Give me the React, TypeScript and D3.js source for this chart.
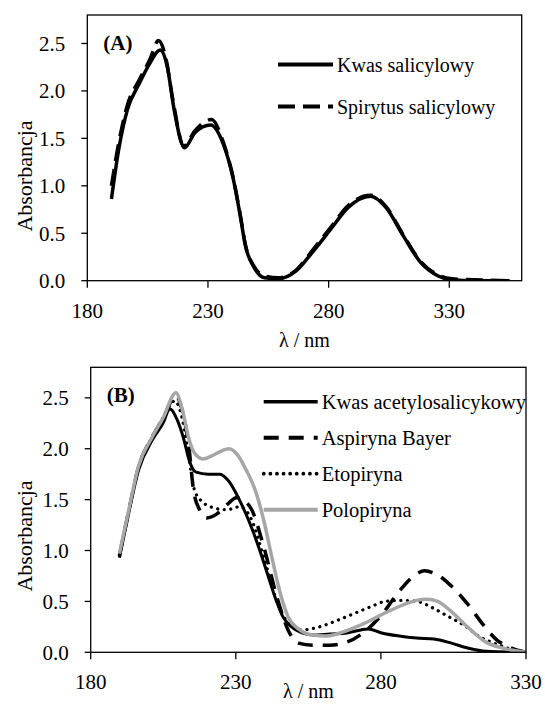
import React from 'react';
import * as d3 from 'd3';

// ---- panel A data ----
const lambdaKwasSal = [190, 193, 196.6, 201.6, 205.9, 210.2, 213.1, 216, 220.3, 224.6, 231.1, 236.2, 240.5, 243.4, 245.5, 249.1, 253.4, 259.2, 266.4, 273.6, 280.8, 288, 297.4, 303.8, 311, 318.2, 325.4, 331.2, 340, 355];
const absKwasSal = [0.86, 1.38, 1.8, 2.08, 2.29, 2.43, 2.26, 1.8, 1.4, 1.56, 1.64, 1.45, 1.07, 0.68, 0.37, 0.14, 0.03, 0.02, 0.1, 0.31, 0.54, 0.77, 0.89, 0.77, 0.47, 0.19, 0.05, 0.01, 0.0, 0.0];
const lambdaSpirytus = [190, 193, 196.6, 201.6, 205.9, 209.5, 212.5, 215.5, 220, 224.6, 231.5, 236.2, 240.5, 243.4, 245.5, 249.1, 253.4, 259.2, 266.4, 273.6, 280.8, 288, 297.4, 303.8, 311, 318.2, 325.4, 331.2, 340, 355];
const absSpirytus = [1.0, 1.45, 1.85, 2.12, 2.33, 2.53, 2.35, 1.9, 1.42, 1.58, 1.7, 1.47, 1.08, 0.69, 0.38, 0.15, 0.05, 0.03, 0.11, 0.33, 0.56, 0.79, 0.9, 0.78, 0.48, 0.2, 0.06, 0.02, 0.01, 0.0];

// ---- panel B data ----
const lambdaKwasAcetyl = [189.9, 192.9, 196.5, 201.3, 204.9, 207.3, 209.7, 212.1, 213.9, 216.3, 220.5, 224.6, 227.6, 231.2, 234.8, 237.8, 240.8, 243.8, 246.2, 249.2, 252.8, 256.4, 262.4, 268.3, 273.1, 275.5, 280.3, 286.3, 292.3, 298.3, 304.3, 310.2, 316.2, 330];
const absKwasAcetyl = [0.93, 1.34, 1.79, 2.09, 2.25, 2.39, 2.29, 2.09, 1.89, 1.77, 1.75, 1.75, 1.68, 1.5, 1.27, 1.04, 0.78, 0.52, 0.35, 0.25, 0.19, 0.17, 0.18, 0.19, 0.22, 0.23, 0.19, 0.16, 0.14, 0.13, 0.09, 0.04, 0.01, 0.0];
const lambdaBayer = [189.9, 192.9, 196.5, 201.3, 204.9, 209.4, 211.5, 213.9, 215.4, 217.5, 220, 223.5, 226.9, 230.5, 233, 235.5, 239.6, 244.4, 248, 251.6, 256.4, 262.4, 268.3, 274.3, 280.3, 286.3, 292.3, 295, 299.5, 305, 310, 315, 320, 325, 330];
const absBayer = [0.95, 1.36, 1.82, 2.12, 2.3, 2.52, 2.38, 2.0, 1.6, 1.4, 1.32, 1.36, 1.45, 1.52, 1.49, 1.4, 1.04, 0.52, 0.22, 0.09, 0.07, 0.07, 0.1, 0.2, 0.37, 0.6, 0.77, 0.8, 0.76, 0.63, 0.47, 0.28, 0.12, 0.04, 0.0];
const lambdaEtopiryna = [189.9, 192.9, 196.5, 201.3, 204.9, 209, 211.5, 213.9, 215.5, 217.7, 222.3, 227, 231.2, 234.8, 239.6, 244.4, 248, 252.8, 258.8, 264.7, 270.7, 276.7, 281.5, 287.5, 292.3, 298.3, 302.7, 308.4, 314.2, 319.9, 325, 330];
const absEtopiryna = [0.95, 1.36, 1.82, 2.12, 2.3, 2.47, 2.3, 1.9, 1.62, 1.5, 1.42, 1.4, 1.43, 1.34, 0.94, 0.48, 0.29, 0.22, 0.25, 0.31, 0.38, 0.45, 0.5, 0.51, 0.5, 0.43, 0.36, 0.27, 0.15, 0.08, 0.03, 0.0];
const lambdaPolopiryna = [189.9, 192.9, 196.5, 201.3, 204.9, 209.4, 211.5, 213.9, 215.7, 218.7, 221.7, 225.2, 227.6, 230.6, 233.6, 236.6, 239.6, 242.6, 245.6, 248, 251.6, 256.4, 261.2, 265.9, 270.7, 275.5, 280.3, 286.3, 292.3, 295.9, 299.5, 304.3, 310.2, 316.2, 322.2, 330];
const absPolopiryna = [0.97, 1.37, 1.83, 2.12, 2.3, 2.55, 2.39, 2.09, 1.96, 1.9, 1.93, 1.98, 2.0, 1.94, 1.79, 1.6, 1.3, 0.91, 0.55, 0.35, 0.23, 0.17, 0.16, 0.19, 0.24, 0.3, 0.37, 0.45, 0.51, 0.52, 0.5, 0.4, 0.24, 0.1, 0.04, 0.0];

const xTicks = [180, 230, 280, 330];
const yTicks = [0, 0.5, 1, 1.5, 2, 2.5];

const FONT = 'Liberation Serif, Times New Roman, Times, DejaVu Serif, serif';

type Series = {
  name: string;
  xs: number[];
  ys: number[];
  stroke: string;
  width: number;
  dash?: string;
  cap?: 'round' | 'butt';
};

type PanelProps = {
  id: string;
  label: string;
  left: number;
  right: number;
  top: number;
  bottom: number;
  xMax: number;
  series: Series[];
  legendX: number;
  legendY: number;
  legendStep: number;
  legendLen: number;
  legendFont: number;
  yTitleY: number;
  xTitleY: number;
};

function Panel(p: PanelProps) {
  const x = d3.scaleLinear().domain([180, p.xMax]).range([p.left, p.right]);
  const y = d3.scaleLinear().domain([0, 2.8]).range([p.bottom, p.top]);
  const line = d3
    .line<[number, number]>()
    .x((d) => x(d[0]))
    .y((d) => y(d[1]))
    .curve(d3.curveMonotoneX);

  return (
    <g style={{ fontFamily: FONT }} fill="#000">
      <defs>
        <clipPath id={`clip-${p.id}`}>
          <rect x={p.left} y={p.top} width={p.right - p.left} height={p.bottom - p.top} />
        </clipPath>
      </defs>
      <g clipPath={`url(#clip-${p.id})`}>
        {p.series.map((s) => (
          <path
            key={s.name}
            d={line(s.xs.map((v, i) => [v, s.ys[i]] as [number, number])) ?? ''}
            fill="none"
            stroke={s.stroke}
            strokeWidth={s.width}
            strokeDasharray={s.dash}
            strokeLinecap={s.cap ?? 'butt'}
            strokeLinejoin="round"
          />
        ))}
      </g>
      <rect
        x={p.left}
        y={p.top}
        width={p.right - p.left}
        height={p.bottom - p.top}
        fill="none"
        stroke="#000"
        strokeWidth={1.3}
      />
      {yTicks.map((t) => (
        <g key={t}>
          <line x1={p.left - 6} x2={p.left} y1={y(t)} y2={y(t)} stroke="#000" strokeWidth={1.3} />
          <text x={p.left - 22} y={y(t)} dy="0.35em" textAnchor="end" fontSize={21}>
            {t.toFixed(1)}
          </text>
        </g>
      ))}
      {xTicks.map((t) => (
        <g key={t}>
          <line x1={x(t)} x2={x(t)} y1={p.bottom} y2={p.bottom + 7} stroke="#000" strokeWidth={1.3} />
          <text x={x(t)} y={p.bottom + 37} textAnchor="middle" fontSize={21}>
            {t}
          </text>
        </g>
      ))}
      <text x={(p.left + p.right) / 2} y={p.xTitleY} textAnchor="middle" fontSize={20}>
        λ / nm
      </text>
      <text
        transform={`translate(32,${p.yTitleY}) rotate(-90)`}
        textAnchor="middle"
        fontSize={22}
      >
        Absorbancja
      </text>
      <text x={p.left + 16} y={p.top + 35} fontSize={21} fontWeight="bold">
        {p.label}
      </text>
      {p.series.map((s, i) => {
        const ly = p.legendY + i * p.legendStep;
        return (
          <g key={s.name}>
            <line
              x1={p.legendX}
              x2={p.legendX + p.legendLen}
              y1={ly}
              y2={ly}
              stroke={s.stroke}
              strokeWidth={s.width + 0.5}
              strokeDasharray={s.dash}
              strokeLinecap={s.cap ?? 'butt'}
            />
            <text x={p.legendX + p.legendLen + 4} y={ly} dy="0.35em" fontSize={p.legendFont}>
              {s.name}
            </text>
          </g>
        );
      })}
    </g>
  );
}

export default function App() {
  const seriesA: Series[] = [
    { name: 'Kwas salicylowy', xs: lambdaKwasSal, ys: absKwasSal, stroke: '#000', width: 3.5 },
    { name: 'Spirytus salicylowy', xs: lambdaSpirytus, ys: absSpirytus, stroke: '#000', width: 3.5, dash: '17,8' },
  ];
  const seriesB: Series[] = [
    { name: 'Kwas acetylosalicykowy', xs: lambdaKwasAcetyl, ys: absKwasAcetyl, stroke: '#000', width: 3 },
    { name: 'Aspiryna Bayer', xs: lambdaBayer, ys: absBayer, stroke: '#000', width: 3.5, dash: '15,10' },
    { name: 'Etopiryna', xs: lambdaEtopiryna, ys: absEtopiryna, stroke: '#000', width: 3.2, dash: '0.1,6.5', cap: 'round' },
    { name: 'Polopiryna', xs: lambdaPolopiryna, ys: absPolopiryna, stroke: '#a6a6a6', width: 3.5 },
  ];

  return (
    <svg
      width={545}
      height={704}
      style={{ position: 'absolute', left: 0, top: 0, background: '#fff' }}
    >
      <Panel
        id="a"
        label="(A)"
        left={87.3}
        right={521.7}
        top={15}
        bottom={280.7}
        xMax={360}
        series={seriesA}
        legendX={278}
        legendY={64.5}
        legendStep={42}
        legendLen={55}
        legendFont={20}
        yTitleY={176}
        xTitleY={347}
      />
      <Panel
        id="b"
        label="(B)"
        left={90.7}
        right={526}
        top={367.3}
        bottom={652.3}
        xMax={330}
        series={seriesB}
        legendX={263.7}
        legendY={401.7}
        legendStep={36}
        legendLen={54}
        legendFont={20.5}
        yTitleY={536}
        xTitleY={698}
      />
    </svg>
  );
}
